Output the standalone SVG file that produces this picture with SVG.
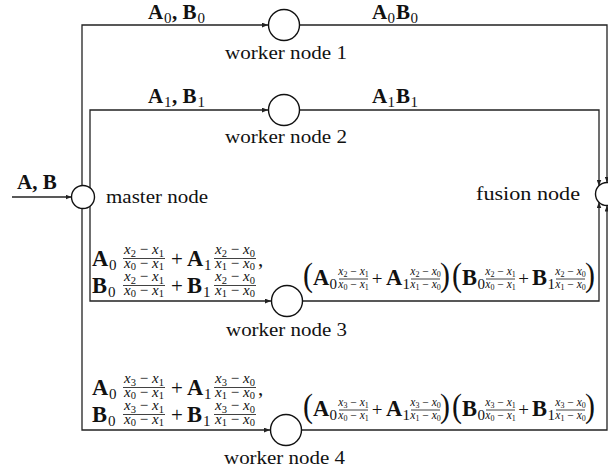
<svg xmlns="http://www.w3.org/2000/svg" width="608" height="470" viewBox="0 0 608 470">
<defs>
<style>
.t{font-family:"Liberation Serif",serif;font-size:19px;fill:#111}
.b{font-family:"Liberation Serif",serif;font-size:22.5px;font-weight:bold;fill:#111}
.bl{font-family:"Liberation Serif",serif;font-size:21px;font-weight:bold;fill:#111}
.s{font-family:"Liberation Serif",serif;font-size:15px;fill:#111}
.r{font-family:"Liberation Serif",serif;font-size:21px;fill:#111}
.ro{font-family:"Liberation Serif",serif;font-size:19px;fill:#111;text-anchor:middle}
.rp{font-family:"Liberation Serif",serif;font-size:21px;fill:#111;text-anchor:middle}
.p{font-family:"Liberation Serif",serif;font-size:30px;fill:#111}
.fn{font-family:"Liberation Serif",serif;font-size:15px;font-style:italic;fill:#111;text-anchor:middle}
.fo{font-family:"Liberation Serif",serif;font-size:11.5px;font-style:italic;fill:#111;text-anchor:middle}
.fn .d{font-size:10.5px;font-style:normal}
.fo .d{font-size:8px;font-style:normal}
.m{font-style:normal}
.bar{stroke:#111;stroke-width:0.8}
.node{fill:#fff;stroke:#111;stroke-width:1.4}
.c{fill:none;stroke:#222;stroke-width:1.3}
</style>
<marker id="ah" viewBox="0 0 10 8" refX="10" refY="4" markerWidth="6" markerHeight="5" markerUnits="userSpaceOnUse" orient="auto">
<path d="M0,0 L10,4 L0,8 z" fill="#222"/>
</marker>
</defs>

<g id="connectors">
<path class="c" d="M12,197 H71.5" marker-end="url(#ah)"/>
<path class="c" d="M82,197 V25 H268" marker-end="url(#ah)"/>
<path class="c" d="M90,197 V110 H268" marker-end="url(#ah)"/>
<path class="c" d="M90,197 V301 H271" marker-end="url(#ah)"/>
<path class="c" d="M82,197 V430 H270" marker-end="url(#ah)"/>
<path class="c" d="M300,25 H607 V182.5" marker-end="url(#ah)"/>
<path class="c" d="M300,110 H599 V185.7" marker-end="url(#ah)"/>
<path class="c" d="M303,301 H599 V202.3" marker-end="url(#ah)"/>
<path class="c" d="M302,430 H607 V205.5" marker-end="url(#ah)"/>
</g>

<g id="edge-labels">
<!-- input -->
<text class="bl" x="17" y="189">A, B</text>
<!-- master to worker 1 -->
<text class="bl" x="148" y="19">A</text><text class="s" x="164" y="22.5">0</text><text class="bl" x="172" y="19">, B</text><text class="s" x="197.5" y="22.5">0</text>
<!-- worker 1 to fusion -->
<text class="bl" x="372" y="19">A</text><text class="s" x="387.5" y="22.5">0</text><text class="bl" x="396" y="19">B</text><text class="s" x="410.5" y="22.5">0</text>
<!-- master to worker 2 -->
<text class="bl" x="148" y="103">A</text><text class="s" x="164" y="106.5">1</text><text class="bl" x="172" y="103">, B</text><text class="s" x="197.5" y="106.5">1</text>
<!-- worker 2 to fusion -->
<text class="bl" x="372" y="103">A</text><text class="s" x="387.5" y="106.5">1</text><text class="bl" x="396" y="103">B</text><text class="s" x="410.5" y="106.5">1</text>

<!-- master to worker 3, line 1 -->
<text class="b" x="92" y="266">A</text><text class="s" x="109" y="269.5">0</text>
<text class="fn" x="144" y="254">x<tspan class="d" dy="2.5">2</tspan><tspan class="m" dy="-2.5"> − </tspan>x<tspan class="d" dy="2.5">1</tspan></text>
<line class="bar" x1="123" y1="258.5" x2="165" y2="258.5"/>
<text class="fn" x="144" y="267.5">x<tspan class="d" dy="2.5">0</tspan><tspan class="m" dy="-2.5"> − </tspan>x<tspan class="d" dy="2.5">1</tspan></text>
<text class="rp" x="177" y="266">+</text>
<text class="b" x="187" y="266">A</text><text class="s" x="204" y="269.5">1</text>
<text class="fn" x="235" y="254">x<tspan class="d" dy="2.5">2</tspan><tspan class="m" dy="-2.5"> − </tspan>x<tspan class="d" dy="2.5">0</tspan></text>
<line class="bar" x1="214" y1="258.5" x2="256" y2="258.5"/>
<text class="fn" x="235" y="267.5">x<tspan class="d" dy="2.5">1</tspan><tspan class="m" dy="-2.5"> − </tspan>x<tspan class="d" dy="2.5">0</tspan></text>
<text class="r" x="258" y="266">,</text>
<!-- line 2 -->
<text class="b" x="92" y="293">B</text><text class="s" x="108" y="296.5">0</text>
<text class="fn" x="144" y="281">x<tspan class="d" dy="2.5">2</tspan><tspan class="m" dy="-2.5"> − </tspan>x<tspan class="d" dy="2.5">1</tspan></text>
<line class="bar" x1="123" y1="285.5" x2="165" y2="285.5"/>
<text class="fn" x="144" y="294.5">x<tspan class="d" dy="2.5">0</tspan><tspan class="m" dy="-2.5"> − </tspan>x<tspan class="d" dy="2.5">1</tspan></text>
<text class="rp" x="177" y="293">+</text>
<text class="b" x="187" y="293">B</text><text class="s" x="203" y="296.5">1</text>
<text class="fn" x="235" y="281">x<tspan class="d" dy="2.5">2</tspan><tspan class="m" dy="-2.5"> − </tspan>x<tspan class="d" dy="2.5">0</tspan></text>
<line class="bar" x1="214" y1="285.5" x2="256" y2="285.5"/>
<text class="fn" x="235" y="294.5">x<tspan class="d" dy="2.5">1</tspan><tspan class="m" dy="-2.5"> − </tspan>x<tspan class="d" dy="2.5">0</tspan></text>

<!-- master to worker 4, line 1 -->
<text class="b" x="92" y="395">A</text><text class="s" x="109" y="398.5">0</text>
<text class="fn" x="144" y="383">x<tspan class="d" dy="2.5">3</tspan><tspan class="m" dy="-2.5"> − </tspan>x<tspan class="d" dy="2.5">1</tspan></text>
<line class="bar" x1="123" y1="387.5" x2="165" y2="387.5"/>
<text class="fn" x="144" y="396.5">x<tspan class="d" dy="2.5">0</tspan><tspan class="m" dy="-2.5"> − </tspan>x<tspan class="d" dy="2.5">1</tspan></text>
<text class="rp" x="177" y="395">+</text>
<text class="b" x="187" y="395">A</text><text class="s" x="204" y="398.5">1</text>
<text class="fn" x="235" y="383">x<tspan class="d" dy="2.5">3</tspan><tspan class="m" dy="-2.5"> − </tspan>x<tspan class="d" dy="2.5">0</tspan></text>
<line class="bar" x1="214" y1="387.5" x2="256" y2="387.5"/>
<text class="fn" x="235" y="396.5">x<tspan class="d" dy="2.5">1</tspan><tspan class="m" dy="-2.5"> − </tspan>x<tspan class="d" dy="2.5">0</tspan></text>
<text class="r" x="258" y="395">,</text>
<!-- line 2 -->
<text class="b" x="92" y="422">B</text><text class="s" x="108" y="425.5">0</text>
<text class="fn" x="144" y="410">x<tspan class="d" dy="2.5">3</tspan><tspan class="m" dy="-2.5"> − </tspan>x<tspan class="d" dy="2.5">1</tspan></text>
<line class="bar" x1="123" y1="414.5" x2="165" y2="414.5"/>
<text class="fn" x="144" y="423.5">x<tspan class="d" dy="2.5">0</tspan><tspan class="m" dy="-2.5"> − </tspan>x<tspan class="d" dy="2.5">1</tspan></text>
<text class="rp" x="177" y="422">+</text>
<text class="b" x="187" y="422">B</text><text class="s" x="203" y="425.5">1</text>
<text class="fn" x="235" y="410">x<tspan class="d" dy="2.5">3</tspan><tspan class="m" dy="-2.5"> − </tspan>x<tspan class="d" dy="2.5">0</tspan></text>
<line class="bar" x1="214" y1="414.5" x2="256" y2="414.5"/>
<text class="fn" x="235" y="423.5">x<tspan class="d" dy="2.5">1</tspan><tspan class="m" dy="-2.5"> − </tspan>x<tspan class="d" dy="2.5">0</tspan></text>

<!-- worker 3 to fusion -->
<text class="p" transform="translate(303,286) scale(1,1.12)">(</text>
<text class="b" x="313" y="285">A</text><text class="s" x="329.5" y="288.5">0</text>
<text class="fo" x="353.5" y="274.5">x<tspan class="d" dy="2">2</tspan><tspan class="m" dy="-2"> − </tspan>x<tspan class="d" dy="2">1</tspan></text>
<line class="bar" x1="339" y1="279" x2="368" y2="279"/>
<text class="fo" x="353.5" y="288">x<tspan class="d" dy="2">0</tspan><tspan class="m" dy="-2"> − </tspan>x<tspan class="d" dy="2">1</tspan></text>
<text class="ro" x="377" y="285">+</text>
<text class="b" x="386" y="285">A</text><text class="s" x="402.5" y="288.5">1</text>
<text class="fo" x="425.5" y="274.5">x<tspan class="d" dy="2">2</tspan><tspan class="m" dy="-2"> − </tspan>x<tspan class="d" dy="2">0</tspan></text>
<line class="bar" x1="411" y1="279" x2="440" y2="279"/>
<text class="fo" x="425.5" y="288">x<tspan class="d" dy="2">1</tspan><tspan class="m" dy="-2"> − </tspan>x<tspan class="d" dy="2">0</tspan></text>
<text class="p" transform="translate(440,286) scale(1,1.12)">)</text>
<text class="p" transform="translate(452,286) scale(1,1.12)">(</text>
<text class="b" x="462" y="285">B</text><text class="s" x="477.5" y="288.5">0</text>
<text class="fo" x="500.5" y="274.5">x<tspan class="d" dy="2">2</tspan><tspan class="m" dy="-2"> − </tspan>x<tspan class="d" dy="2">1</tspan></text>
<line class="bar" x1="486" y1="279" x2="515" y2="279"/>
<text class="fo" x="500.5" y="288">x<tspan class="d" dy="2">0</tspan><tspan class="m" dy="-2"> − </tspan>x<tspan class="d" dy="2">1</tspan></text>
<text class="ro" x="523.5" y="285">+</text>
<text class="b" x="532" y="285">B</text><text class="s" x="547.5" y="288.5">1</text>
<text class="fo" x="570.5" y="274.5">x<tspan class="d" dy="2">2</tspan><tspan class="m" dy="-2"> − </tspan>x<tspan class="d" dy="2">0</tspan></text>
<line class="bar" x1="556" y1="279" x2="585" y2="279"/>
<text class="fo" x="570.5" y="288">x<tspan class="d" dy="2">1</tspan><tspan class="m" dy="-2"> − </tspan>x<tspan class="d" dy="2">0</tspan></text>
<text class="p" transform="translate(585,286) scale(1,1.12)">)</text>

<!-- worker 4 to fusion -->
<text class="p" transform="translate(303,417) scale(1,1.12)">(</text>
<text class="b" x="313" y="416">A</text><text class="s" x="329.5" y="419.5">0</text>
<text class="fo" x="353.5" y="405.5">x<tspan class="d" dy="2">3</tspan><tspan class="m" dy="-2"> − </tspan>x<tspan class="d" dy="2">1</tspan></text>
<line class="bar" x1="339" y1="410" x2="368" y2="410"/>
<text class="fo" x="353.5" y="419">x<tspan class="d" dy="2">0</tspan><tspan class="m" dy="-2"> − </tspan>x<tspan class="d" dy="2">1</tspan></text>
<text class="ro" x="377" y="416">+</text>
<text class="b" x="386" y="416">A</text><text class="s" x="402.5" y="419.5">1</text>
<text class="fo" x="425.5" y="405.5">x<tspan class="d" dy="2">3</tspan><tspan class="m" dy="-2"> − </tspan>x<tspan class="d" dy="2">0</tspan></text>
<line class="bar" x1="411" y1="410" x2="440" y2="410"/>
<text class="fo" x="425.5" y="419">x<tspan class="d" dy="2">1</tspan><tspan class="m" dy="-2"> − </tspan>x<tspan class="d" dy="2">0</tspan></text>
<text class="p" transform="translate(440,417) scale(1,1.12)">)</text>
<text class="p" transform="translate(452,417) scale(1,1.12)">(</text>
<text class="b" x="462" y="416">B</text><text class="s" x="477.5" y="419.5">0</text>
<text class="fo" x="500.5" y="405.5">x<tspan class="d" dy="2">3</tspan><tspan class="m" dy="-2"> − </tspan>x<tspan class="d" dy="2">1</tspan></text>
<line class="bar" x1="486" y1="410" x2="515" y2="410"/>
<text class="fo" x="500.5" y="419">x<tspan class="d" dy="2">0</tspan><tspan class="m" dy="-2"> − </tspan>x<tspan class="d" dy="2">1</tspan></text>
<text class="ro" x="523.5" y="416">+</text>
<text class="b" x="532" y="416">B</text><text class="s" x="547.5" y="419.5">1</text>
<text class="fo" x="570.5" y="405.5">x<tspan class="d" dy="2">3</tspan><tspan class="m" dy="-2"> − </tspan>x<tspan class="d" dy="2">0</tspan></text>
<line class="bar" x1="556" y1="410" x2="585" y2="410"/>
<text class="fo" x="570.5" y="419">x<tspan class="d" dy="2">1</tspan><tspan class="m" dy="-2"> − </tspan>x<tspan class="d" dy="2">0</tspan></text>
<text class="p" transform="translate(585,417) scale(1,1.12)">)</text>
</g>

<g id="master">
<circle class="node" cx="83" cy="197" r="11.5"/>
<text class="t" x="106" y="203" textLength="102" lengthAdjust="spacingAndGlyphs">master node</text>
</g>
<g id="worker1">
<circle class="node" cx="284" cy="25" r="15.5"/>
<text class="t" x="225" y="59" textLength="122" lengthAdjust="spacingAndGlyphs">worker node 1</text>
</g>
<g id="worker2">
<circle class="node" cx="284" cy="110" r="15.5"/>
<text class="t" x="225" y="143" textLength="122" lengthAdjust="spacingAndGlyphs">worker node 2</text>
</g>
<g id="worker3">
<circle class="node" cx="287" cy="301" r="15.5"/>
<text class="t" x="226" y="336" textLength="121" lengthAdjust="spacingAndGlyphs">worker node 3</text>
</g>
<g id="worker4">
<circle class="node" cx="286" cy="430" r="15.5"/>
<text class="t" x="224" y="464" textLength="121" lengthAdjust="spacingAndGlyphs">worker node 4</text>
</g>
<g id="fusion">
<circle class="node" cx="607" cy="194" r="11.5"/>
<text class="t" x="476" y="200" textLength="104" lengthAdjust="spacingAndGlyphs">fusion node</text>
</g>
</svg>
